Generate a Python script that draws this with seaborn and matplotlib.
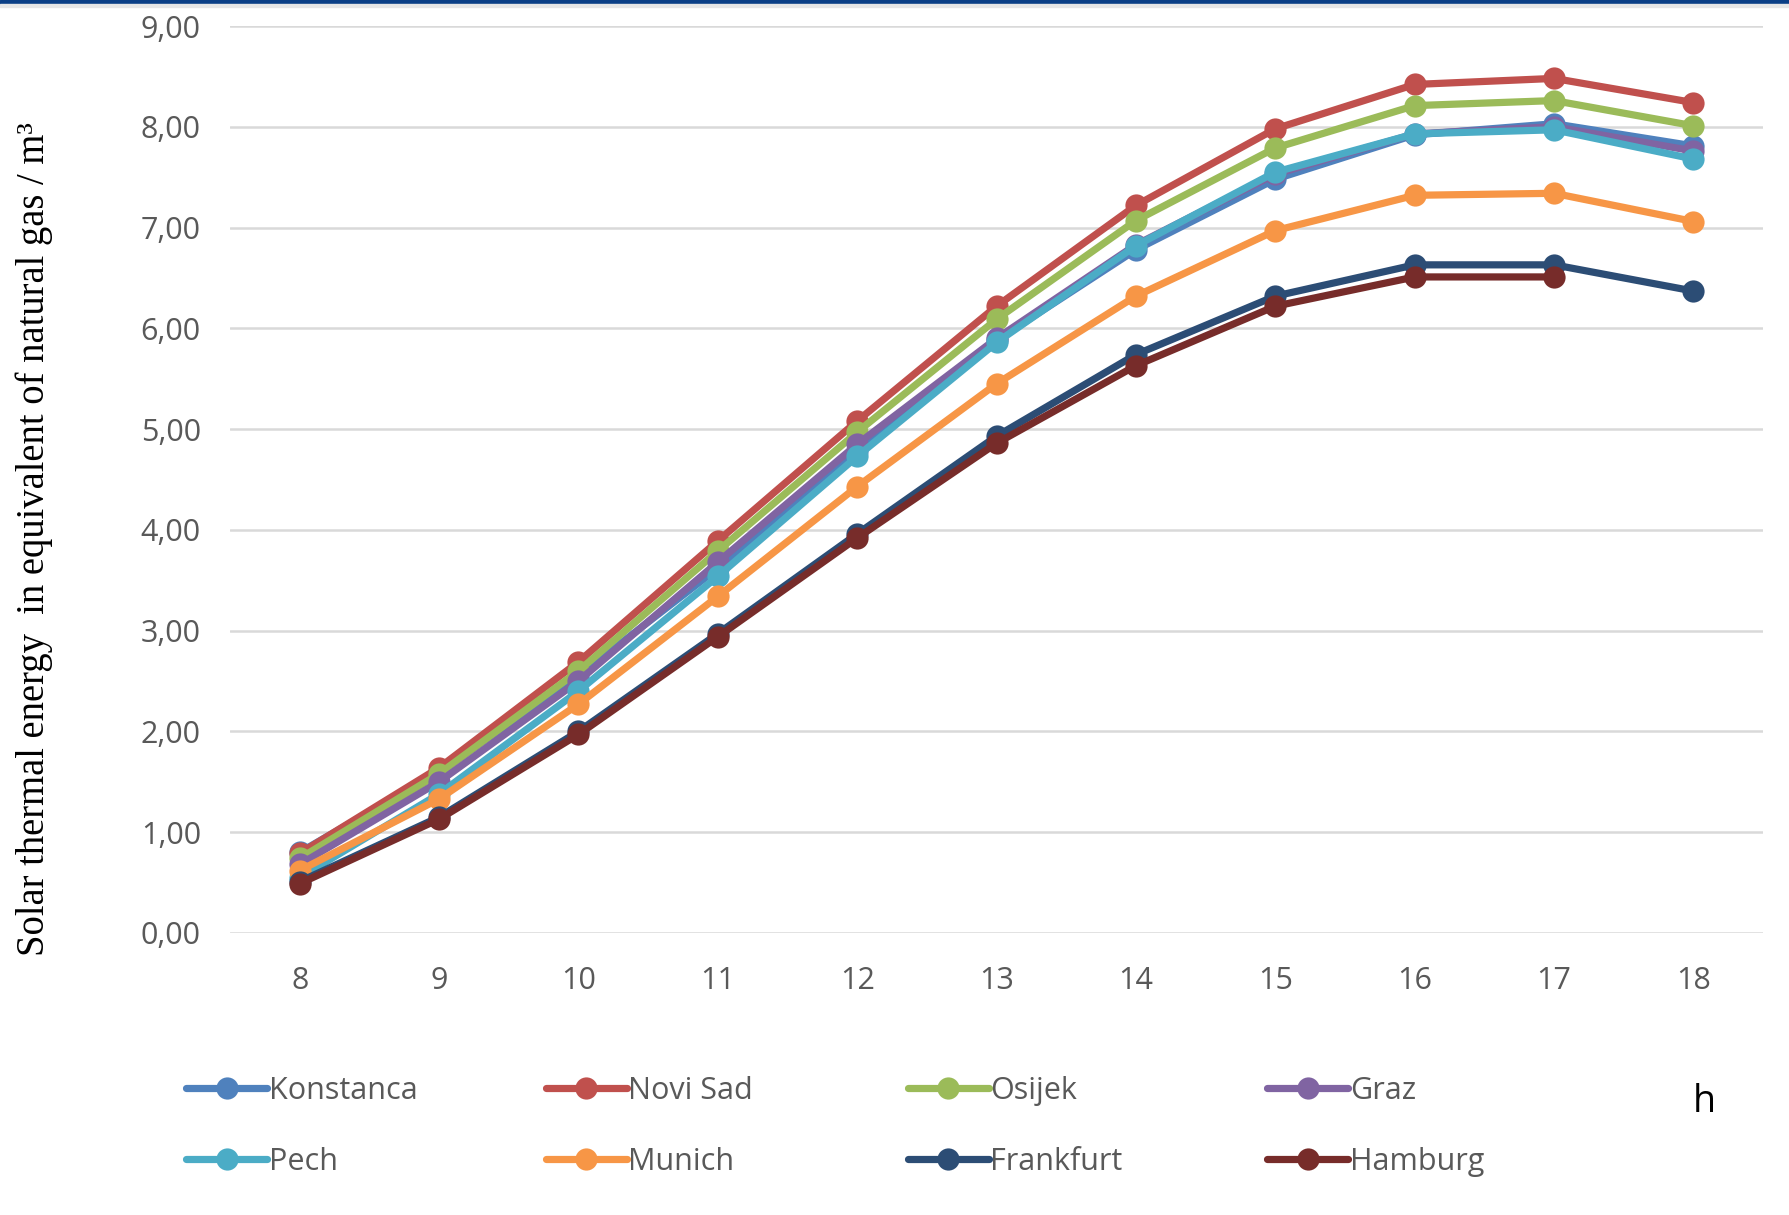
import matplotlib
matplotlib.use("Agg")
import matplotlib.pyplot as plt
from matplotlib.lines import Line2D
from matplotlib.patches import Rectangle
import numpy as np
import pandas as pd
import seaborn as sns

# Hour of day
hours = [8, 9, 10, 11, 12, 13, 14, 15, 16, 17, 18]

# Solar thermal energy expressed as m3 of natural gas, per city
konstanca = [0.80, 1.60, 2.55, 3.62, 4.78, 5.88, 6.78, 7.48, 7.92, 8.03, 7.81]
novi_sad  = [0.79, 1.64, 2.69, 3.89, 5.08, 6.22, 7.22, 7.98, 8.42, 8.48, 8.24]
osijek    = [0.74, 1.58, 2.60, 3.79, 4.97, 6.09, 7.07, 7.79, 8.21, 8.26, 8.01]
graz      = [0.68, 1.50, 2.50, 3.68, 4.85, 5.90, 6.83, 7.53, 7.93, 8.00, 7.76]
pech      = [0.55, 1.38, 2.40, 3.54, 4.73, 5.86, 6.82, 7.55, 7.93, 7.97, 7.68]
munich    = [0.62, 1.33, 2.27, 3.34, 4.43, 5.45, 6.32, 6.97, 7.32, 7.34, 7.06]
frankfurt = [0.51, 1.15, 2.00, 2.97, 3.96, 4.93, 5.74, 6.32, 6.63, 6.63, 6.37]
hamburg   = [0.49, 1.13, 1.97, 2.94, 3.92, 4.86, 5.63, 6.22, 6.51, 6.51, np.nan]

cities = ["Konstanca", "Novi Sad", "Osijek", "Graz",
          "Pech", "Munich", "Frankfurt", "Hamburg"]
series = [konstanca, novi_sad, osijek, graz, pech, munich, frankfurt, hamburg]
colors = ["#4F81BD", "#C0504D", "#9BBB59", "#8064A2",
          "#4BACC6", "#F79646", "#2C4D75", "#772C2A"]

y_ticks = [0, 1, 2, 3, 4, 5, 6, 7, 8, 9]
y_tick_labels = ["0,00", "1,00", "2,00", "3,00", "4,00",
                 "5,00", "6,00", "7,00", "8,00", "9,00"]

df = pd.DataFrame({
    "hour": np.tile(hours, len(cities)),
    "value": np.concatenate(series),
    "city": np.repeat(cities, len(hours)),
}).dropna()

sns.set_theme(style="white")
plt.rcParams["font.family"] = ["Open Sans", "DejaVu Sans"]

fig = plt.figure(figsize=(17.9, 12.15), dpi=100)
ax = fig.add_axes([0.1285, 0.2321, 0.8565, 0.7465])

LW = 5.2
MS = 16
sns.lineplot(data=df, x="hour", y="value", hue="city", hue_order=cities,
             palette=colors, marker="o", markersize=MS, markeredgewidth=0,
             linewidth=LW, errorbar=None, legend=False, ax=ax, zorder=3)

ax.set_xlim(7.5, 18.5)
ax.set_ylim(0, 9)
ax.set_xticks(hours)
ax.set_xticklabels([str(h) for h in hours])
ax.set_yticks(y_ticks)
ax.set_yticklabels(y_tick_labels)
ax.yaxis.grid(True, color="#D9D9D9", linewidth=1.8, zorder=0)
ax.xaxis.grid(False)
for s in ax.spines.values():
    s.set_visible(False)
ax.tick_params(axis="both", length=0, labelsize=22, labelcolor="#595959")
ax.tick_params(axis="x", pad=24)
ax.tick_params(axis="y", pad=21)
ax.set_xlabel("")
ax.set_ylabel("")
for lab in ax.get_yticklabels() + ax.get_xticklabels():
    lab.set_clip_on(False)

# Vertical axis title in a serif face
fig.text(0.019, 0.556,
         "Solar thermal energy  in equivalent of natural gas / m\u00b3",
         rotation=90, ha="center", va="center", fontsize=27.8,
         family=["Liberation Serif", "DejaVu Serif"], color="black")

# Unit of the horizontal axis, beside the legend
fig.text(0.952, 0.093, "h", ha="center", va="center", fontsize=27,
         color="black")

# Legend laid out as four evenly spaced columns of two entries
col_x = [0.104, 0.305, 0.507, 0.708]
for c in range(4):
    idx = [c, c + 4]
    handles = [Line2D([0], [0], color=colors[i], lw=LW, marker="o",
                      markersize=MS, markeredgewidth=0) for i in idx]
    leg = fig.legend(handles, [cities[i] for i in idx],
                     loc="upper left", bbox_to_anchor=(col_x[c], 0.1145),
                     frameon=False, fontsize=22, handlelength=2.65,
                     handletextpad=0.05, labelspacing=1.35,
                     borderaxespad=0, borderpad=0)
    for t in leg.get_texts():
        t.set_color("#595959")

# Header band across the top edge
fig.patches.append(Rectangle((0, 1 - 3.5 / 1215), 1, 3.5 / 1215,
                             transform=fig.transFigure, color="#0B3F86",
                             zorder=10))
fig.patches.append(Rectangle((0, 1 - 7 / 1215), 1, 3.5 / 1215,
                             transform=fig.transFigure, color="#E6E6E6",
                             zorder=10))

fig.savefig("out.png", dpi=100, facecolor="white")
